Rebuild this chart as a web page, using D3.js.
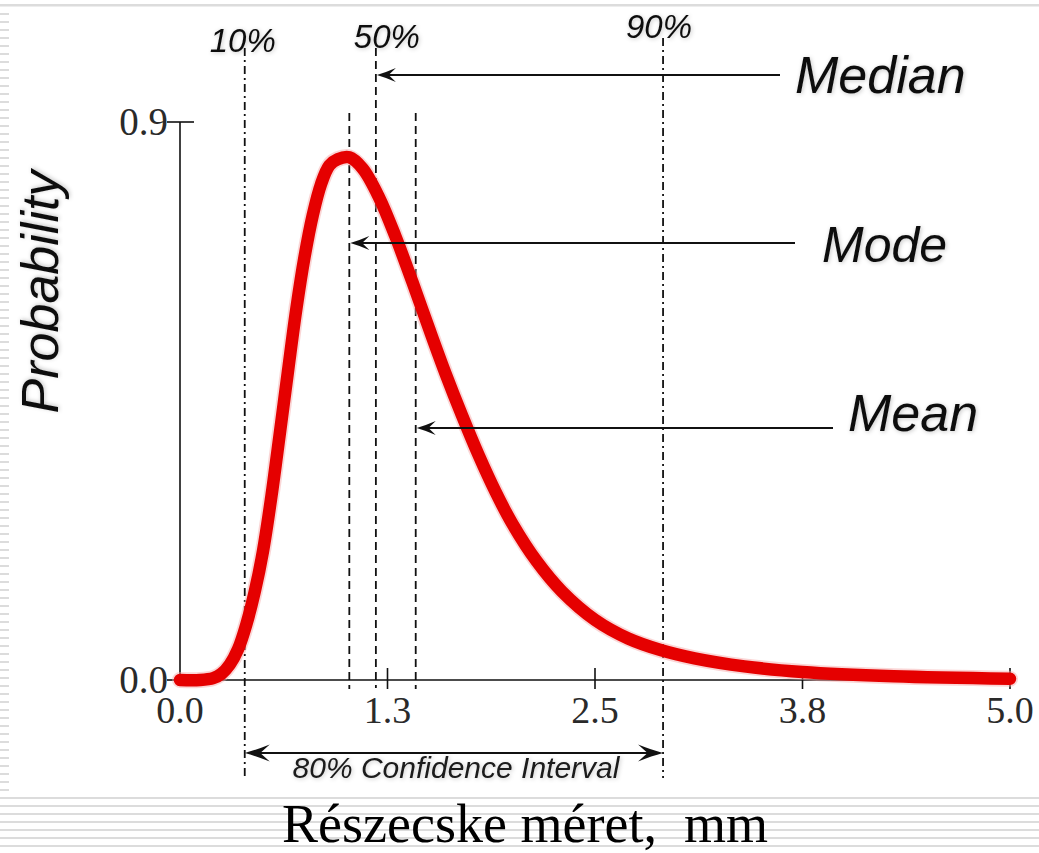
<!DOCTYPE html>
<html>
<head>
<meta charset="utf-8">
<script src="https://cdn.jsdelivr.net/npm/d3@7"></script>
<style>
  html, body { margin: 0; padding: 0; background: #ffffff; }
  svg { display: block; }
</style>
</head>
<body>
<svg id="chart" width="1039" height="853"></svg>
<script>
// Particle size distribution (mm) and its probability density
const sizeMm = [0.00, 0.12, 0.20, 0.25, 0.30, 0.35, 0.40, 0.45, 0.50, 0.55, 0.60, 0.65, 0.70, 0.75, 0.80, 0.85, 0.90, 0.95, 1.02,
                1.10, 1.20, 1.30, 1.40, 1.50, 1.60, 1.70, 1.80, 1.90, 2.00, 2.15, 2.30, 2.50, 2.70, 2.90, 3.10, 3.40, 3.75, 4.30, 5.00];
const probability = [0.000, 0.000, 0.003, 0.010, 0.025, 0.050, 0.090, 0.142, 0.208, 0.295, 0.395, 0.497, 0.597, 0.682, 0.750, 0.800, 0.830, 0.840, 0.843,
                     0.825, 0.778, 0.714, 0.642, 0.567, 0.494, 0.426, 0.362, 0.304, 0.253, 0.191, 0.143, 0.097, 0.067, 0.048, 0.035, 0.022, 0.013, 0.006, 0.002];

// Axis ticks
const xTicks = [0, 1.25, 2.5, 3.75, 5.0];
const xTickLabels = ["0.0", "1.3", "2.5", "3.8", "5.0"];
const yTicks = [0, 0.9];
const yTickLabels = ["0.0", "0.9"];

// Summary statistics of the distribution
const statNames = ["Mode", "Median", "Mean"];
const statValues = [1.02, 1.18, 1.42];

// Percentiles bounding the 80% confidence interval
const percentileNames = ["10%", "50%", "90%"];
const percentileValues = [0.39, 1.18, 2.91];

const svg = d3.select("#chart");
const W = 1039, H = 853;

const x = d3.scaleLinear().domain([0, 5]).range([180, 1010]);
const y = d3.scaleLinear().domain([0, 0.9]).range([680, 122]);

// ---- slide background: ruled lines on the left edge and along the bottom
const rule = "#dcdcdc";
svg.append("rect").attr("x", 0).attr("y", 4).attr("width", W).attr("height", 2.5).attr("fill", rule);
const ruleYs = d3.range(14, H + 8, 8);
svg.append("g").selectAll("rect").data(ruleYs).join("rect")
  .attr("x", 0).attr("y", d => d - 1)
  .attr("width", d => d >= 796 ? W : 9)
  .attr("height", 2)
  .attr("fill", rule);

// soft shadow used by the italic annotation labels
const defs = svg.append("defs");
const f = defs.append("filter").attr("id", "soft").attr("x", "-10%").attr("y", "-20%").attr("width", "120%").attr("height", "140%");
f.append("feDropShadow").attr("dx", 1).attr("dy", 1).attr("stdDeviation", 2)
  .attr("flood-color", "#000").attr("flood-opacity", 0.22);

const sans = "'Liberation Sans', Arial, sans-serif";
const serif = "'Liberation Serif', 'Times New Roman', serif";

// ---- axes
const axes = svg.append("g").attr("stroke", "#111").attr("stroke-width", 1.6);
axes.append("line").attr("x1", x(0)).attr("x2", x(5)).attr("y1", y(0)).attr("y2", y(0));
axes.append("line").attr("x1", x(0)).attr("x2", x(0)).attr("y1", y(0)).attr("y2", y(0.9));
axes.selectAll(".xt").data(xTicks.slice(1)).join("line")
  .attr("x1", d => x(d)).attr("x2", d => x(d))
  .attr("y1", y(0) - 12).attr("y2", y(0) + 9);
axes.selectAll(".yt").data(yTicks).join("line")
  .attr("x1", x(0) - 13).attr("x2", x(0) + 14)
  .attr("y1", d => y(d)).attr("y2", d => y(d));

svg.append("g").selectAll("text").data(xTicks).join("text")
  .attr("x", d => x(d)).attr("y", 723)
  .attr("text-anchor", "middle")
  .attr("font-family", serif).attr("font-size", 38).attr("fill", "#2a2a2a")
  .text((d, i) => xTickLabels[i]);

svg.append("g").selectAll("text").data(yTicks).join("text")
  .attr("x", x(0) - 12).attr("y", d => y(d) + 13)
  .attr("text-anchor", "end")
  .attr("font-family", serif).attr("font-size", 39).attr("fill", "#2a2a2a")
  .text((d, i) => yTickLabels[i]);

// ---- percentile and statistic guide lines
const guides = svg.append("g").attr("stroke", "#111").attr("stroke-width", 1.8).attr("fill", "none");
const pctTop = [48, 48, 38];
percentileValues.forEach((v, i) => {
  const isMedian = percentileNames[i] === "50%";
  guides.append("line")
    .attr("x1", x(v)).attr("x2", x(v))
    .attr("y1", pctTop[i]).attr("y2", isMedian ? 688 : 778)
    .attr("stroke-dasharray", isMedian ? "8,5" : "8,4,2,4");
});
statNames.forEach((n, i) => {
  if (n === "Median") return;
  guides.append("line")
    .attr("x1", x(statValues[i])).attr("x2", x(statValues[i]))
    .attr("y1", 113).attr("y2", 689)
    .attr("stroke-dasharray", "8,5");
});

// percentile labels
const pctDx = [-2, 11, -4];
const pctBase = [52, 48, 38];
svg.append("g").selectAll("text").data(percentileNames).join("text")
  .attr("x", (d, i) => x(percentileValues[i]) + pctDx[i])
  .attr("y", (d, i) => pctBase[i])
  .attr("text-anchor", "middle")
  .attr("font-family", sans).attr("font-style", "italic").attr("font-size", 33)
  .attr("fill", "#111").attr("filter", "url(#soft)")
  .text(d => d);

// ---- distribution curve
const line = d3.line()
  .x((d, i) => x(sizeMm[i]))
  .y(d => y(d))
  .curve(d3.curveCatmullRom.alpha(0.5));
svg.append("path").datum(probability)
  .attr("d", line).attr("fill", "none")
  .attr("stroke", "#f4a4a4").attr("stroke-width", 16).attr("stroke-opacity", 0.45)
  .attr("stroke-linecap", "round").attr("stroke-linejoin", "round");
svg.append("path").datum(probability)
  .attr("d", line).attr("fill", "none")
  .attr("stroke", "#e50000").attr("stroke-width", 12.5)
  .attr("stroke-linecap", "round").attr("stroke-linejoin", "round");

// ---- callouts pointing at mode, median and mean
function arrowHead(g, tipX, tipY, dir, len, half) {
  const b = tipX + dir * len, n = tipX + dir * len * 0.62;
  g.append("path")
    .attr("d", `M${tipX},${tipY} Q${tipX + dir * len * 0.45},${tipY - half * 0.35} ${b},${tipY - half} L${n},${tipY} L${b},${tipY + half} Q${tipX + dir * len * 0.45},${tipY + half * 0.35} ${tipX},${tipY}Z`)
    .attr("fill", "#111").attr("stroke", "none");
}
const callY = { Median: 75, Mode: 243, Mean: 428 };
const callEnd = { Median: 780, Mode: 795, Mean: 833 };
const textX = { Median: 795, Mode: 822, Mean: 848 };
const textBase = { Median: 93, Mode: 262, Mean: 431 };
const textSize = { Median: 52, Mode: 50, Mean: 52 };
const calls = svg.append("g");
statNames.forEach((n, i) => {
  const tip = x(statValues[i]) + 1;
  calls.append("line")
    .attr("x1", tip + 4).attr("x2", callEnd[n])
    .attr("y1", callY[n]).attr("y2", callY[n])
    .attr("stroke", "#111").attr("stroke-width", 1.8);
  arrowHead(calls, tip, callY[n], 1, 19, 7);
  calls.append("text")
    .attr("x", textX[n]).attr("y", textBase[n])
    .attr("font-family", sans).attr("font-style", "italic").attr("font-size", textSize[n])
    .attr("fill", "#111").attr("filter", "url(#soft)")
    .text(n);
});

// ---- 80% confidence interval between the 10% and 90% percentiles
const ci = svg.append("g");
const ciL = x(percentileValues[0]), ciR = x(percentileValues[2]), ciY = 753;
ci.append("line").attr("x1", ciL + 6).attr("x2", ciR - 6).attr("y1", ciY).attr("y2", ciY)
  .attr("stroke", "#111").attr("stroke-width", 1.8);
arrowHead(ci, ciL, ciY, 1, 25, 8.5);
arrowHead(ci, ciR, ciY, -1, 25, 8.5);
ci.append("text")
  .attr("x", 456).attr("y", 778)
  .attr("text-anchor", "middle")
  .attr("font-family", sans).attr("font-style", "italic").attr("font-size", 30)
  .attr("fill", "#1a1a1a").attr("filter", "url(#soft)")
  .text("80% Confidence Interval");

// ---- axis titles
svg.append("text")
  .attr("transform", "translate(58,292) rotate(-90)")
  .attr("text-anchor", "middle")
  .attr("font-family", sans).attr("font-style", "italic").attr("font-size", 52)
  .attr("fill", "#111").attr("filter", "url(#soft)")
  .text("Probability");

svg.append("text")
  .attr("x", 525).attr("y", 842)
  .attr("text-anchor", "middle")
  .attr("font-family", serif).attr("font-size", 54)
  .attr("fill", "#000")
  .style("white-space", "pre")
  .text("Részecske méret,  mm");
</script>
</body>
</html>
